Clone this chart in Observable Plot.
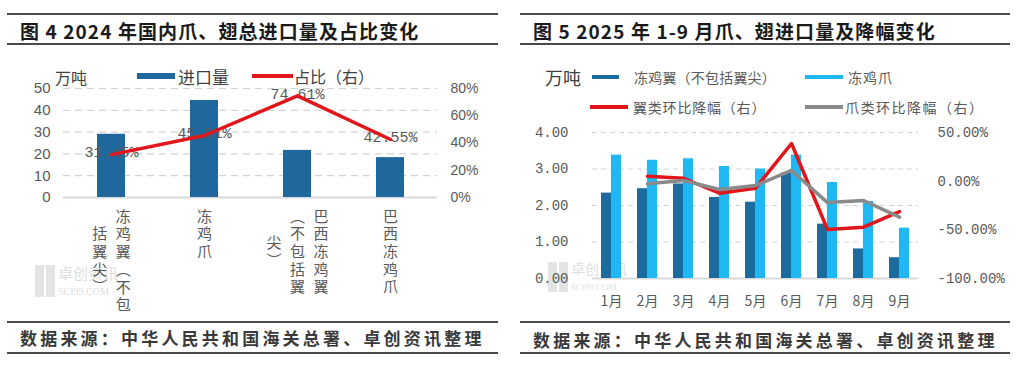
<!DOCTYPE html>
<html><head><meta charset="utf-8">
<script src="https://cdn.jsdelivr.net/npm/d3@7"></script>
<script src="https://cdn.jsdelivr.net/npm/@observablehq/plot@0.6"></script>
<style>
body{margin:0;background:#fff;width:1019px;height:366px;position:relative;overflow:hidden;font-family:"Noto Sans CJK SC","Noto Sans",sans-serif;}
.rule{position:absolute;height:2px;background:#4a4a4a;}
.title{position:absolute;font-weight:700;font-size:19px;letter-spacing:1.1px;color:#1a1a1a;line-height:1;white-space:nowrap;}
.src{position:absolute;font-size:17px;letter-spacing:3.2px;color:#3a3a3a;font-weight:700;white-space:nowrap;line-height:1}
.leg{position:absolute;white-space:nowrap;line-height:1;color:#404040;z-index:2}
.sw{position:absolute;z-index:2}
.chart{position:absolute;z-index:1}
.wm{position:absolute;color:#dedede;white-space:nowrap;line-height:1;z-index:0}
</style></head><body>
<div class="rule" style="left:7px;top:13px;width:491px"></div>
<div class="title" style="left:20px;top:21px">图 4 2024 年国内爪、翅总进口量及占比变化</div>
<div class="rule" style="left:7px;top:43px;width:491px"></div>
<div class="rule" style="left:7px;top:321px;width:491px"></div>
<div class="src" style="left:20px;top:329px">数据来源：中华人民共和国海关总署、卓创资讯整理</div>
<div class="rule" style="left:7px;top:352px;width:491px"></div>

<div class="rule" style="left:520px;top:13px;width:490px"></div>
<div class="title" style="left:533px;top:21px">图 5 2025 年 1-9 月爪、翅进口量及降幅变化</div>
<div class="rule" style="left:520px;top:43px;width:490px"></div>
<div class="rule" style="left:520px;top:321px;width:490px"></div>
<div class="src" style="left:533px;top:331px">数据来源：中华人民共和国海关总署、卓创资讯整理</div>
<div class="rule" style="left:520px;top:352px;width:490px"></div>

<!-- watermarks -->
<div class="wm" style="left:35px;top:265px;width:20px;height:32px;background:repeating-linear-gradient(90deg,#e4e4e4 0 9px,transparent 9px 11px)"></div>
<div class="wm" style="left:58px;top:265px;font-size:15px">卓创资讯</div>
<div class="wm" style="left:58px;top:287px;font-size:10px;font-family:'Liberation Serif'">SCI99.COM</div>
<div class="wm" style="left:548px;top:262px;width:20px;height:30px;background:repeating-linear-gradient(90deg,#e4e4e4 0 9px,transparent 9px 11px)"></div>
<div class="wm" style="left:571px;top:261px;font-size:14px">卓创资讯</div>
<div class="wm" style="left:571px;top:283px;font-size:9px;font-family:'Liberation Serif'">SCI99.COM</div>

<!-- legend left -->
<div class="leg" style="left:55px;top:69px;font-size:16px">万吨</div>
<div class="sw" style="left:137px;top:73px;width:38px;height:6px;background:#1f689e"></div>
<div class="leg" style="left:178px;top:68px;font-size:17px">进口量</div>
<div class="sw" style="left:252px;top:74px;width:41px;height:3.5px;background:#e0161b"></div>
<div class="leg" style="left:294px;top:68px;font-size:16px">占比（右）</div>

<!-- legend right -->
<div class="leg" style="left:545px;top:68px;font-size:18px">万吨</div>
<div class="sw" style="left:592px;top:75px;width:27px;height:4px;background:#1b6b9e"></div>
<div class="leg" style="left:634px;top:70px;font-size:14px;letter-spacing:0.2px;color:#595959">冻鸡翼（不包括翼尖）</div>
<div class="sw" style="left:805px;top:75px;width:38px;height:4px;background:#20b8f2"></div>
<div class="leg" style="left:848px;top:70px;font-size:14px;letter-spacing:1px;color:#595959">冻鸡爪</div>
<div class="sw" style="left:590px;top:105px;width:38px;height:4px;background:#e0161b"></div>
<div class="leg" style="left:633px;top:100px;font-size:14px;letter-spacing:0.8px;color:#595959">翼类环比降幅（右）</div>
<div class="sw" style="left:805px;top:105px;width:38px;height:4px;background:#8a8a8a"></div>
<div class="leg" style="left:845px;top:100px;font-size:14px;letter-spacing:1.5px;color:#595959">爪类环比降幅（右）</div>

<div id="c1" class="chart" style="left:0px;top:50px"></div>
<div id="c2" class="chart" style="left:510px;top:115px"></div>

<script>
// ---------- Chart 1 data ----------
const cats1 = ["冻鸡翼（不包括翼尖）", "冻鸡爪", "巴西冻鸡翼（不包括翼尖）", "巴西冻鸡爪"];
// tick labels as they wrap into vertical columns (first column on the right)
const tickCols1 = [["冻鸡翼（不包", "括翼尖）"], ["冻鸡爪"], ["巴西冻鸡翼", "（不包括翼", "尖）"], ["巴西冻鸡爪"]];
const imports1 = [29.0, 44.5, 21.6, 18.3];
const share1 = [31.45, 45.51, 74.61, 42.55];
const leftTicks1 = [0, 10, 20, 30, 40, 50];
const rightTicks1 = [0, 20, 40, 60, 80];

// ---------- Chart 2 data ----------
const months2 = ["1月", "2月", "3月", "4月", "5月", "6月", "7月", "8月", "9月"];
const wings2 = [2.34, 2.46, 2.59, 2.22, 2.09, 2.89, 1.49, 0.81, 0.57];
const feet2 = [3.38, 3.24, 3.28, 3.07, 3.00, 3.38, 2.63, 2.11, 1.38];
const wingChg2 = [null, 5.1, 3.0, -12.4, -7.2, 38.7, -49.7, -47.3, -31.2];
const feetChg2 = [null, -2.7, 0.7, -8.6, -4.5, 11.0, -22.0, -19.9, -37.0];
const leftTicks2 = [0, 1, 2, 3, 4];
const rightTicks2 = [-100, -50, 0, 50];

const gray = "#595959";

// ---------- Chart 1 ----------
const data1 = cats1.map((c, i) => ({cat: c, imp: imports1[i], share: share1[i]}));
const s1 = v => v * 50 / 80; // right axis (0–80%) onto left (0–50)
const LH = 17.7, FS = 15, COLGAP = 23.5;
const tickMarks1 = [];
const colSet = new Set();
cats1.forEach((c, k) => {
  const cols = tickCols1[k];
  const n = cols.length;
  const L0 = [...cols[0]].length;
  cols.forEach((col, i) => {
    colSet.add(col);
    tickMarks1.push(Plot.text([c], {
      x: d => d, frameAnchor: "bottom", text: () => col,
      fontSize: FS, fontFamily: "Noto Sans CJK SC", fill: gray,
      dx: ((n - 1) / 2 - i) * COLGAP, dy: 11 + L0 * LH / 2
    }));
  });
});

const p1 = Plot.plot({
  width: 500, height: 270,
  marginTop: 38, marginBottom: 123, marginLeft: 63, marginRight: 63,
  x: {domain: cats1, paddingInner: 0.7, paddingOuter: 0.35, axis: null},
  y: {domain: [0, 50], axis: null},
  style: {background: "transparent", overflow: "visible"},
  marks: [
    Plot.ruleY(leftTicks1.filter(d => d > 0), {stroke: "#d4d4d4", strokeDasharray: "7,5", strokeWidth: 1.2}),
    Plot.ruleY([0], {stroke: "#d9d9d9", strokeWidth: 2}),
    Plot.barY(data1, {x: "cat", y: "imp", fill: "#1f689e"}),
    Plot.text(data1, {x: "cat", y: d => s1(d.share), text: d => d.share.toFixed(2) + "%",
      fontFamily: "Liberation Mono", fontSize: 15, fill: gray, dy: -2}),
    Plot.line(data1, {x: "cat", y: d => s1(d.share), stroke: "#e0161b", strokeWidth: 3.5}),
    Plot.text(leftTicks1, {y: d => d, text: d => String(d), frameAnchor: "left", textAnchor: "end",
      dx: -13, fontSize: 15, fontFamily: "Liberation Sans", fill: gray}),
    Plot.text(rightTicks1, {y: d => s1(d), text: d => d + "%", frameAnchor: "right", textAnchor: "start",
      dx: 13, fontSize: 14, fontFamily: "Liberation Sans", fill: gray}),
    ...tickMarks1
  ]
});
// stack the category tick labels vertically (centred on their anchor)
d3.select(p1).selectAll("text").filter(function() { return colSet.has(this.textContent); })
  .attr("writing-mode", "vertical-rl")
  .attr("text-anchor", "middle")
  .attr("y", null)
  .style("letter-spacing", (LH - FS) + "px");
document.getElementById("c1").appendChild(p1);

// ---------- Chart 2 ----------
const data2 = months2.map((m, i) => ({m, wing: wings2[i], foot: feet2[i], wc: wingChg2[i], fc: feetChg2[i]}));
const toLeft = v => (v == null ? NaN : (v + 100) / 37.5); // right axis (-100–50%) onto left (0–4)
const W2 = 509, ML2 = 82, MR2 = 101;
const step2 = (W2 - ML2 - MR2) / months2.length;
const bw2 = step2 * 0.55;

const p2 = Plot.plot({
  width: W2, height: 203,
  marginTop: 17, marginBottom: 40, marginLeft: ML2, marginRight: MR2,
  x: {domain: months2, paddingInner: 0.45, paddingOuter: 0.225, axis: null},
  y: {domain: [0, 4], axis: null},
  style: {background: "transparent", overflow: "visible"},
  marks: [
    Plot.ruleY(leftTicks2.filter(d => d > 0), {stroke: "#d4d4d4", strokeDasharray: "5,4", strokeWidth: 1.2}),
    Plot.ruleY([0], {stroke: "#d9d9d9", strokeWidth: 2}),
    Plot.barY(data2, {x: "m", y: "wing", fill: "#1b6b9e", insetRight: bw2 / 2}),
    Plot.barY(data2, {x: "m", y: "foot", fill: "#20b8f2", insetLeft: bw2 / 2}),
    Plot.line(data2, {x: "m", y: d => toLeft(d.wc), stroke: "#e0161b", strokeWidth: 3.5}),
    Plot.line(data2, {x: "m", y: d => toLeft(d.fc), stroke: "#8a8a8a", strokeWidth: 3.5}),
    Plot.text(leftTicks2, {y: d => d, text: d => d.toFixed(2), frameAnchor: "left", textAnchor: "end",
      dx: -24, fontSize: 14, fontFamily: "Liberation Mono", fill: gray}),
    Plot.text(rightTicks2, {y: d => toLeft(d), text: d => d.toFixed(2) + "%", frameAnchor: "right", textAnchor: "start",
      dx: 19, fontSize: 14, fontFamily: "Liberation Mono", fill: gray}),
    Plot.text(months2, {x: d => d, text: d => d, frameAnchor: "bottom", dy: 27,
      fontSize: 14, fontFamily: "Noto Sans CJK SC", fill: gray})
  ]
});
document.getElementById("c2").appendChild(p2);
</script>
</body></html>
